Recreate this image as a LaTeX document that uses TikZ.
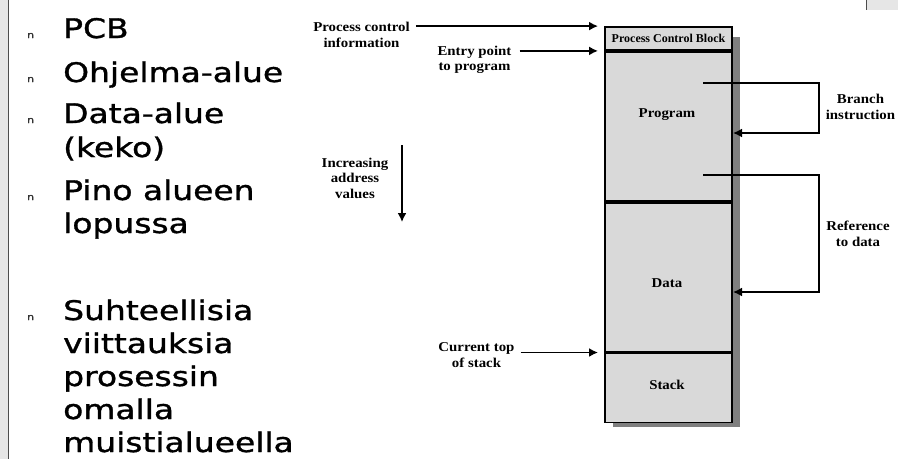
\documentclass[tikz,border=0pt]{standalone}
\usepackage{fontspec}
\setmainfont{Liberation Serif}
\newfontfamily\slidefont[FakeStretch=1.22, FakeBold=1.2]{DejaVu Sans}
\newfontfamily\figfont[FakeStretch=1.1]{Liberation Serif}
\definecolor{regiongray}{HTML}{D9D9D9}
\definecolor{shadowgray}{HTML}{7F7F7F}
\definecolor{stripgray}{HTML}{E6E6E6}
\usepackage{tikz}
\usetikzlibrary{arrows.meta, positioning, calc}

\begin{document}
\begin{tikzpicture}[x=1pt, y=-1pt,
  region/.style = {rectangle, draw = black, line width = 1.8pt, fill = regiongray, minimum width = 127pt, inner sep = 0pt},
  lbl/.style = {font = \figfont\fontsize{13.5}{15.5}\selectfont\bfseries, align = center, inner sep = 1pt},
  item/.style = {font = \slidefont\fontsize{27}{33}\selectfont, anchor = base west, inner sep = 0pt},
  bul/.style = {font = \slidefont\fontsize{9}{9}\selectfont, anchor = base west, inner sep = 0pt, text = black!80},
  arr/.style = {-{Latex[length=9pt, width=9pt]}, line width = 1.6pt}]
\useasboundingbox (0,0) rectangle (898,459);
% slide frame
\fill[stripgray] (0,0) rectangle (8,459);
\draw[black!70, line width = 1pt] (8,0) -- (8,459);
\fill[stripgray] (866,0) rectangle (898,10);
\draw[black!70, line width = 1pt] (866,0) -- (866,10);
% bullet list
\foreach \y in {38,82,123,200,320}
  \node[bul] (n\y) at (27,\y) {n};
\foreach \y/\t in {38/PCB, 82/Ohjelma-alue, 123/Data-alue, 157/(keko), 200/Pino alueen, 233/lopussa,
  320/Suhteellisia, 353/viittauksia, 386/prosessin, 419/omalla, 452/muistialueella}
  \node[item] (t\y) at (63,\y) {\t};
% process image
\fill[shadowgray] (613,37) rectangle (740,427);
\node[region, minimum height = 23pt, font = \fontsize{12}{14}\selectfont\bfseries] (pcb) at (668.5,38.5) {Process Control Block};
\node[region, minimum height = 149pt, below = 0pt of pcb] (prog) {};
\node[region, minimum height = 149pt, below = 0pt of prog] (data) {};
\node[region, minimum height = 69pt, below = 0pt of data] (stack) {};
\node[lbl] (progtxt) at (667,115) {Program};
\node[lbl] (datatxt) at (667,283) {Data};
\node[lbl] (stacktxt) at (667,385) {Stack};
% labels on the left
\node[lbl] (pci) at (361.5,35) {Process control\\information};
\node[lbl] (entry) at (474.5,60) {Entry point\\to program};
\node[lbl] (incr) at (355,178) {Increasing\\address\\values};
\node[lbl] (cur) at (476.5,355) {Current top\\of stack};
\coordinate (incrtop) at (402,145);
\coordinate (incrbot) at (402,222);
\draw[arr] (incrtop) -- (incrbot);
\draw[arr] (pci.east |- pcb.north) ++(5,0) coordinate (pcisrc) -- (pcb.north west -| 598,0);
\draw[arr] (entry.east |- pcb.south) ++(7,0) coordinate (entrysrc) -- (pcb.south west -| 598,0);
\draw[arr] (cur.east |- stack.north) ++(5,0) coordinate (cursrc) -- (stack.north west -| 598,0);
% references inside the program
\node[lbl] (branch) at (860.5,107) {Branch\\instruction};
\node[lbl] (refdata) at (858,234) {Reference\\to data};
\coordinate (brsrc) at (703,83);
\coordinate (brdst) at (733,133);
\coordinate (rdsrc) at (703,175);
\coordinate (rddst) at (733,292);
\draw[arr] (brsrc) -- (819,83) |- (brdst);
\draw[arr] (rdsrc) -- (819,175) |- (rddst);
\end{tikzpicture}
\end{document}
